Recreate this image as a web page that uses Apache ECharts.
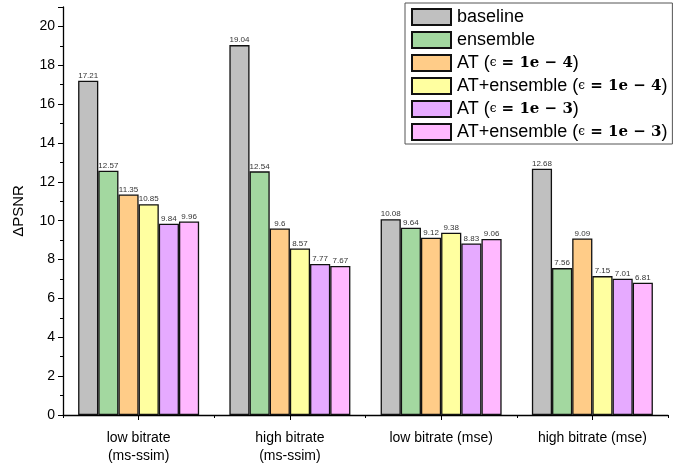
<!DOCTYPE html>
<html><head><meta charset="utf-8">
<script src="https://cdn.jsdelivr.net/npm/echarts@6/dist/echarts.min.js"></script>
<style>html,body{margin:0;padding:0;background:#fff}#c{width:684px;height:465px}</style>
</head><body><div id="c"></div>
<script>
const categories = ['low bitrate\n(ms-ssim)', 'high bitrate\n(ms-ssim)', 'low bitrate (mse)', 'high bitrate (mse)'];
const seriesNames = ['baseline', 'ensemble', 'AT (eps4)', 'AT+ensemble (eps4)', 'AT (eps3)', 'AT+ensemble (eps3)'];
const baseline = [17.21, 19.04, 10.08, 12.68];
const ensemble = [12.57, 12.54, 9.64, 7.56];
const at4 = [11.35, 9.6, 9.12, 9.09];
const atEns4 = [10.85, 8.57, 9.38, 7.15];
const at3 = [9.84, 7.77, 8.83, 7.01];
const atEns3 = [9.96, 7.67, 9.06, 6.81];
const yTicks = [0, 2, 4, 6, 8, 10, 12, 14, 16, 18, 20];
const colors = ['#c0c0c0', '#a3d8a0', '#ffcc88', '#ffffa0', '#e6aaff', '#ffb8ff'];
const values = [baseline, ensemble, at4, atEns4, at3, atEns3];

const legendText = {
  'baseline': 'baseline',
  'ensemble': 'ensemble',
  'AT (eps4)': 'AT ({e|ϵ}{m| = 1e − 4})',
  'AT+ensemble (eps4)': 'AT+ensemble ({e|ϵ}{m| = 1e − 4})',
  'AT (eps3)': 'AT ({e|ϵ}{m| = 1e − 3})',
  'AT+ensemble (eps3)': 'AT+ensemble ({e|ϵ}{m| = 1e − 3})'
};

const chart = echarts.init(document.getElementById('c'), null, {renderer: 'canvas'});
const series = seriesNames.map((n, i) => ({
  name: n,
  type: 'bar',
  data: values[i],
  barGap: '0%',
  barCategoryGap: '20%',
  itemStyle: {color: colors[i], borderColor: '#111', borderWidth: 1.3},
  label: {show: true, position: 'top', distance: 1, fontSize: 8, color: '#333', fontFamily: 'Arial, Liberation Sans'},
  emphasis: {disabled: true}
}));

chart.setOption({
  animation: false,
  textStyle: {fontFamily: 'Arial, "Liberation Sans", sans-serif'},
  grid: {left: 63, right: 16, top: 7, bottom: 45, containLabel: false},
  legend: {
    orient: 'vertical',
    left: 405, top: 3,
    padding: [5, 5, 3, 6],
    itemWidth: 39, itemHeight: 16, itemGap: 5,
    backgroundColor: '#fff',
    borderColor: '#555', borderWidth: 1,
    icon: 'rect',
    data: seriesNames,
    formatter: n => legendText[n],
    textStyle: {
      fontSize: 18, lineHeight: 17, color: '#000', padding: [0, 0, 0, 1],
      rich: {
        e: {fontFamily: 'DejaVu Serif, serif', fontSize: 12, lineHeight: 17, color: '#000'},
        m: {fontFamily: 'DejaVu Serif, serif', fontWeight: 'bold', fontSize: 15, lineHeight: 17, color: '#000'}
      }
    }
  },
  xAxis: [{
    type: 'category',
    data: categories,
    axisLine: {lineStyle: {color: '#000', width: 1.3}},
    axisTick: {show: true, alignWithLabel: true, length: 5, lineStyle: {color: '#000'}},
    axisLabel: {fontSize: 14, color: '#000', margin: 14, lineHeight: 18, interval: 0}
  }, {
    type: 'category',
    data: categories,
    position: 'bottom',
    axisLine: {show: false},
    axisTick: {show: true, length: 3, lineStyle: {color: '#000'}},
    axisLabel: {show: false}
  }],
  yAxis: {
    type: 'value',
    min: 0, max: 21, interval: 2,
    name: 'ΔPSNR',
    nameLocation: 'middle',
    nameGap: 37,
    nameTextStyle: {fontSize: 15, color: '#000'},
    axisLine: {show: true, lineStyle: {color: '#000', width: 1.3}},
    axisTick: {show: true, length: 5, lineStyle: {color: '#000'}},
    minorTick: {show: true, splitNumber: 2, length: 3, lineStyle: {color: '#000'}},
    splitLine: {show: false},
    axisLabel: {fontSize: 14, color: '#000', margin: 8,
      formatter: v => (yTicks.indexOf(v) >= 0 ? String(v) : '')}
  },
  series: series
});
</script></body></html>
